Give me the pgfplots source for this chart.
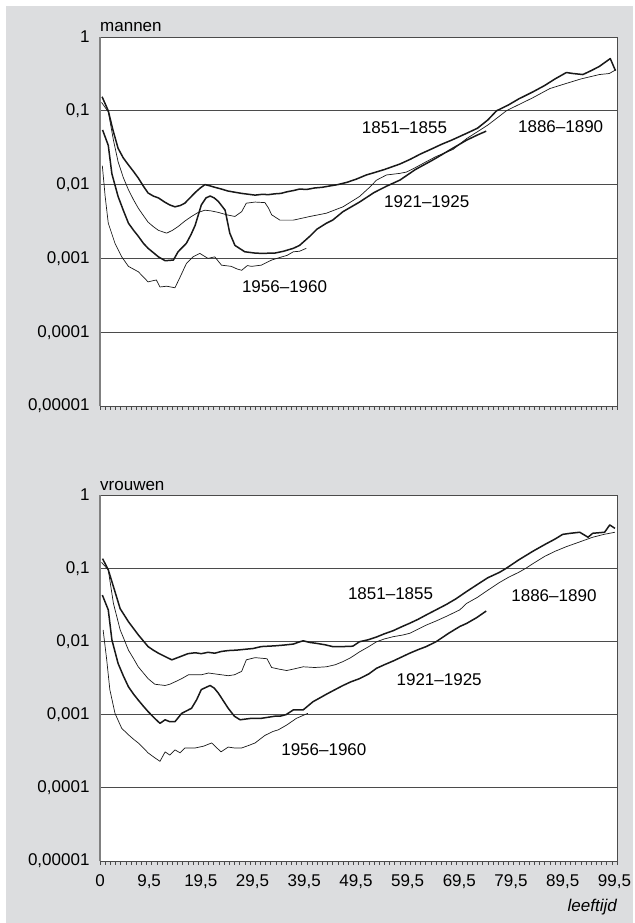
\documentclass[border=0pt]{standalone}
\usepackage{pgfplots}
\pgfplotsset{compat=1.18}
\usepackage{fontspec}
\setmainfont{Liberation Sans}

\definecolor{bg}{RGB}{220,221,223}
\definecolor{gridc}{RGB}{75,75,75}
\definecolor{ln}{RGB}{25,25,25}

\newcommand{\lbl}{\fontsize{17}{20}\selectfont}

\begin{document}
\begin{tikzpicture}
\fill[white] (-100pt,-517pt) rectangle (533pt,406pt);
\fill[bg] (-94pt,-517pt) rectangle (533pt,400pt);

% mannen
\begin{axis}[
    at={(0,0)}, anchor=south west,
    scale only axis, width=517pt, height=369pt,
    xmin=0, xmax=100,
    ymode=log, ymin=1e-5, ymax=1,
    clip=false,
    axis background/.style={fill=white},
    axis line style={draw=gridc, line width=0.7pt},
    ytick={1e-5,1e-4,1e-3,1e-2,1e-1,1},
    yticklabels={{0,00001},{0,0001},{0,001},{0,01},{0,1},{1}},
    yminorticks=false,
    ymajorgrids, major grid style={draw=gridc, line width=0.7pt},
    xtick={0,9.5,19.5,29.5,39.5,49.5,59.5,69.5,79.5,89.5,99.5},
    xticklabels={},
    minor xtick={0,1,...,100},
    major tick length=0pt, minor tick length=3.5pt,
    tick align=outside, xtick pos=left, ytick pos=left,
    minor tick style={draw=gridc, line width=0.5pt},
    tick label style={font=\lbl},
    yticklabel style={xshift=-7pt},
    ]
\addplot[ln, line width=1.5pt, mark=none, line join=round] coordinates {
(0.4,0.155) (1.6,0.100) (2.5,0.055) (3.5,0.031) (4.5,0.023) (5.5,0.0185) (6.5,0.015)
(7.4,0.0123) (8.4,0.0095) (9.3,0.0077) (10.3,0.0070) (11.3,0.0066) (12.5,0.0058)
(13.5,0.0053) (14.5,0.0050) (15.5,0.0052) (16.4,0.0056) (17.4,0.0066) (18.4,0.0078)
(19.4,0.0090) (20.3,0.0100) (21.3,0.0096) (22.2,0.0092) (23.5,0.0087) (24.7,0.0082)
(26,0.0079) (27.4,0.0076) (28.7,0.0074) (30,0.0072) (31.5,0.0074) (32.5,0.0073)
(33.8,0.0075) (35,0.0076) (36.2,0.0080) (37.4,0.0083) (38.6,0.0087) (40,0.0086)
(41.5,0.0090) (43,0.0092) (44.5,0.0096) (46,0.0100) (47.7,0.0107) (49.5,0.0118)
(51.5,0.0135) (53,0.0145) (55,0.0160) (58,0.019) (60,0.022) (62,0.026) (64.4,0.031)
(66,0.035) (68,0.040) (70.9,0.0495) (73,0.058) (75,0.075) (76.7,0.100) (79,0.120)
(81,0.145) (83.7,0.18) (86,0.22) (88,0.27) (90.2,0.33) (91.5,0.32) (93.4,0.31)
(95,0.35) (96.6,0.40) (98.7,0.51) (99.7,0.35)
};
\addplot[ln, line width=0.7pt, mark=none, line join=round] coordinates {
(0.3,0.13) (1.6,0.097) (2.6,0.040) (3.5,0.0204) (4.5,0.0125) (5.5,0.0085) (6.5,0.0062)
(7.4,0.0048) (8.4,0.0038) (9.3,0.0031) (10.3,0.0027) (11.3,0.0024) (12.9,0.0022)
(14,0.0024) (15.1,0.0027) (16.4,0.0032) (17.7,0.0037) (19,0.0042) (20.3,0.0045)
(21.5,0.0044) (22.9,0.0042) (24.5,0.0039) (26.1,0.0037) (27.4,0.0043) (28.3,0.0056)
(30,0.0058) (31.9,0.0057) (32.6,0.0048) (33.2,0.0039) (34.8,0.0033) (37.4,0.0033)
(40.6,0.0037) (43.8,0.0041) (47,0.0050) (50.2,0.0069) (52,0.0090) (53.5,0.0115)
(55.4,0.0135) (58,0.0142) (59.3,0.0148) (61,0.017) (63.1,0.0204) (65,0.024)
(68.3,0.0300) (70.9,0.042) (73,0.052) (75,0.064) (77.3,0.085) (78.6,0.100)
(80,0.112) (83.7,0.150) (87,0.200) (90.2,0.235) (93,0.27) (96.6,0.31) (98.5,0.32)
(99.8,0.36)
};
\addplot[ln, line width=1.5pt, mark=none, line join=round] coordinates {
(0.5,0.055) (1.6,0.034) (2.3,0.014) (3.5,0.0069) (4.5,0.0045) (5.5,0.0030) (6.5,0.0024)
(7.4,0.0020) (8.4,0.0016) (9.3,0.00137) (10.3,0.0012) (11.3,0.00105) (12.6,0.00093)
(14.2,0.00095) (15.1,0.00123) (16.7,0.0016) (17.6,0.0021) (18.4,0.0028) (19.6,0.0053)
(20.5,0.0066) (21.3,0.0070) (22.1,0.0066) (22.9,0.0059) (24.2,0.0045) (25.1,0.0022)
(26.1,0.0015) (28,0.00123) (30,0.00118) (31.2,0.00117) (33.8,0.00118) (35.5,0.00125)
(37.4,0.00137) (38.6,0.0015) (40.6,0.0020) (42,0.0025) (43.8,0.0030) (45,0.0033)
(47,0.0043) (50.2,0.0058) (53,0.0078) (55.4,0.0095) (58,0.0115) (61,0.016)
(64.4,0.0216) (67.5,0.029) (70.9,0.040) (73,0.047) (74.7,0.053)
};
\addplot[ln, line width=0.7pt, mark=none, line join=round] coordinates {
(0.45,0.018) (1.0,0.0069) (1.6,0.0030) (2.9,0.0016) (4.2,0.00105) (5.5,0.00078)
(7.4,0.00066) (8.4,0.00056) (9.3,0.00048) (10.3,0.00050) (10.9,0.00051) (11.6,0.00041)
(12.9,0.00042) (14.5,0.00040) (15.5,0.00056) (16.7,0.00085) (18.0,0.00105)
(19.3,0.00117) (20.1,0.00108) (20.9,0.0010) (22.2,0.00105) (23.5,0.00081)
(25.4,0.00078) (26.5,0.00072) (27.4,0.00069) (28.5,0.00080) (29.3,0.00078)
(31.2,0.00081) (33.2,0.00095) (34.8,0.00103) (36.2,0.00110) (37.4,0.00123)
(38.6,0.00125) (39.9,0.00137)
};
\draw[gray, line width=1.8pt] (rel axis cs:0,0) -- (rel axis cs:0,1);
\node[font=\lbl, anchor=base west, inner sep=0pt, yshift=5pt] at (rel axis cs:0,1) {mannen};
\node[font=\lbl] at (axis cs:58.9,0.0585) {1851--1855};
\node[font=\lbl] at (axis cs:89.1,0.0604) {1886--1890};
\node[font=\lbl] at (axis cs:63.2,0.0058) {1921--1925};
\node[font=\lbl] at (axis cs:35.7,0.00041) {1956--1960};
\end{axis}

% vrouwen
\begin{axis}[
    at={(0,-455pt)}, anchor=south west,
    scale only axis, width=517pt, height=366pt,
    xmin=0, xmax=100,
    ymode=log, ymin=1e-5, ymax=1,
    clip=false,
    axis background/.style={fill=white},
    axis line style={draw=gridc, line width=0.7pt},
    ytick={1e-5,1e-4,1e-3,1e-2,1e-1,1},
    yticklabels={{0,00001},{0,0001},{0,001},{0,01},{0,1},{1}},
    yminorticks=false,
    ymajorgrids, major grid style={draw=gridc, line width=0.7pt},
    xtick={0,9.5,19.5,29.5,39.5,49.5,59.5,69.5,79.5,89.5,99.5},
    xticklabels={0,{9,5},{19,5},{29,5},{39,5},{49,5},{59,5},{69,5},{79,5},{89,5},{99,5}},
    minor xtick={0,1,...,100},
    major tick length=0pt, minor tick length=3.5pt,
    tick align=outside, xtick pos=left, ytick pos=left,
    minor tick style={draw=gridc, line width=0.5pt},
    tick label style={font=\lbl},
    yticklabel style={xshift=-7pt},
    xticklabel style={yshift=-10pt},
    ]
\addplot[ln, line width=1.5pt, mark=none, line join=round] coordinates {
(0.5,0.135) (1.6,0.095) (2.6,0.056) (3.9,0.028) (5.5,0.0186) (7.4,0.0123) (9.3,0.0085)
(10.3,0.0076) (11.3,0.0069) (12.6,0.0062) (13.9,0.0056) (15.8,0.0063) (17,0.0068)
(18.4,0.0070) (19.6,0.0068) (20.9,0.0071) (22.2,0.0069) (23.5,0.0073) (24.8,0.0075)
(26.4,0.0076) (28,0.0078) (29.6,0.0080) (31.2,0.0085) (33.8,0.0087) (35.5,0.0089)
(37.4,0.0092) (38.5,0.0098) (39.3,0.0102) (40.5,0.0097) (41.9,0.0094) (43.5,0.0090)
(45,0.0085) (47,0.0085) (48.9,0.0086) (50.2,0.0099) (51.8,0.0105) (53.5,0.0115)
(55,0.0127) (56.7,0.0140) (58.3,0.0158) (59.9,0.0177) (61.5,0.020) (63.1,0.023)
(65,0.027) (67,0.032) (68.8,0.038) (70.9,0.048) (73,0.060) (75,0.074) (77.3,0.088)
(78.6,0.100) (81,0.130) (83.7,0.170) (86,0.21) (88,0.25) (89.5,0.29) (91,0.30)
(92.8,0.31) (94.4,0.265) (95.3,0.30) (97.6,0.31) (98.6,0.39) (99.6,0.35)
};
\addplot[ln, line width=0.7pt, mark=none, line join=round] coordinates {
(0.3,0.12) (1.6,0.095) (2.6,0.033) (3.9,0.0144) (4.7,0.0105) (5.5,0.0076) (6.5,0.0058)
(7.4,0.0045) (8.4,0.0037) (9.3,0.0031) (10.6,0.0026) (12.6,0.0025) (13.5,0.0026)
(14.5,0.0028) (15.8,0.0031) (17.1,0.0035) (18.4,0.0035) (19.6,0.0035) (21,0.0037)
(22.2,0.0036) (23.5,0.0035) (24.8,0.0034) (26,0.0035) (27.4,0.0039) (28.3,0.0056)
(30,0.0060) (32.3,0.0058) (33.2,0.0044) (34.5,0.0042) (36.1,0.0040) (37.5,0.0042)
(39.3,0.0045) (41.5,0.0044) (43.8,0.0045) (45.5,0.0048) (47,0.0053) (48.5,0.0060)
(50.2,0.0072) (52,0.0085) (53.5,0.0099) (55,0.0108) (56.7,0.0116) (58.5,0.0122)
(59.9,0.0129) (61.5,0.0147) (63.1,0.0167) (65,0.019) (67,0.022) (69.6,0.027)
(70.9,0.033) (73,0.040) (75,0.050) (77.3,0.064) (79,0.075) (81,0.088) (82.4,0.100)
(83.7,0.115) (86,0.145) (88,0.170) (90.2,0.197) (92.5,0.225) (95.3,0.265)
(97.5,0.29) (99.6,0.31)
};
\addplot[ln, line width=1.5pt, mark=none, line join=round] coordinates {
(0.45,0.043) (1.6,0.027) (2.3,0.0105) (3.5,0.0050) (4.5,0.0034) (5.5,0.0024) (6.5,0.0019)
(7.4,0.00158) (8.4,0.0013) (9.3,0.0011) (10.5,0.0009) (11.6,0.00076) (12.6,0.00085)
(13.5,0.00080) (14.5,0.0008) (15.8,0.00104) (17.7,0.00122) (18.7,0.0016) (19.6,0.0022)
(21.3,0.0025) (22.1,0.0023) (22.9,0.00196) (24.8,0.00122) (26,0.00095) (27.1,0.00085)
(29.3,0.00089) (31.2,0.00089) (33.8,0.00095) (34.8,0.00095) (36,0.0010) (37.4,0.00116)
(39.3,0.00116) (41.2,0.0015) (43.8,0.0019) (45.5,0.0022) (47,0.0025) (48.5,0.0028)
(50.2,0.0031) (52,0.0036) (53.5,0.0043) (55,0.0048) (56.7,0.0054) (58.3,0.0061)
(59.9,0.0069) (61.5,0.0077) (63.1,0.0085) (65,0.0099) (67.5,0.013) (69.6,0.016)
(70.9,0.0176) (72.8,0.021) (74.7,0.026)
};
\addplot[ln, line width=0.7pt, mark=none, line join=round] coordinates {
(0.6,0.0144) (1.3,0.0056) (1.9,0.0022) (2.9,0.00104) (4.2,0.00065) (5.5,0.00053)
(6.5,0.00046) (7.4,0.00041) (8.4,0.00035) (9.3,0.00030) (10.5,0.00026) (11.6,0.00023)
(12.6,0.00031) (13.5,0.00028) (14.5,0.00033) (15.5,0.00030) (16.4,0.00035)
(18.4,0.00035) (20,0.00037) (21.6,0.00041) (23.4,0.00031) (24.8,0.00036) (26,0.00035)
(27.4,0.00035) (28.8,0.00038) (30,0.00041) (31.9,0.00052) (33.5,0.00059)
(34.5,0.00062) (36.1,0.00072) (38,0.00089) (40.2,0.00104)
};
\draw[gray, line width=1.8pt] (rel axis cs:0,0) -- (rel axis cs:0,1);
\node[font=\lbl, anchor=base west, inner sep=0pt, yshift=5pt] at (rel axis cs:0,1) {vrouwen};
\node[font=\lbl\itshape, anchor=east, inner sep=0pt, yshift=-46pt] at (rel axis cs:1,0) {leeftijd};
\node[font=\lbl] at (axis cs:56.2,0.0444) {1851--1855};
\node[font=\lbl] at (axis cs:87.8,0.0417) {1886--1890};
\node[font=\lbl] at (axis cs:65.6,0.00297) {1921--1925};
\node[font=\lbl] at (axis cs:43.3,0.000328) {1956--1960};
\end{axis}
\end{tikzpicture}
\end{document}
